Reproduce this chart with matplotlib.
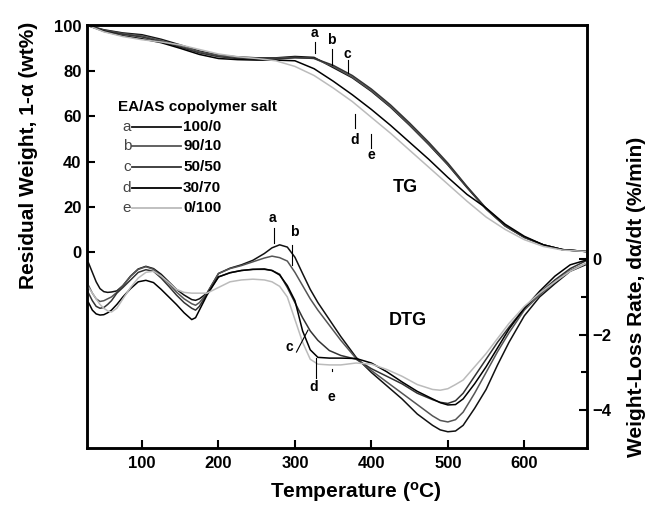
import numpy as np
import matplotlib
matplotlib.use("Agg")
import matplotlib.pyplot as plt

plt.rcParams['font.family'] = ['Liberation Sans', 'DejaVu Sans']

# ---- TG data (left axis, wt%) ----
t_tg = [30, 50, 75, 100, 125, 150, 175, 200, 225, 250, 275, 300, 325, 350,
        375, 400, 425, 450, 475, 500, 525, 550, 575, 600, 625, 650, 680]
tg_a = [100, 98.2, 96.8, 96.0, 94.0, 91.5, 88.8, 87.0, 86.2, 85.8, 85.8, 86.4, 86.0, 81.5,
        77.0, 71.0, 64.0, 56.0, 47.5, 38.5, 28.5, 19.0, 11.5, 6.5, 3.2, 1.1, 0.3]
tg_b = [100, 98.0, 96.5, 95.5, 93.5, 91.0, 88.5, 86.8, 86.0, 85.6, 85.6, 86.0, 85.5, 82.0,
        77.3, 71.3, 64.3, 56.3, 47.8, 38.8, 28.8, 19.2, 11.6, 6.5, 3.2, 1.1, 0.3]
tg_c = [100, 97.8, 96.2, 95.0, 93.0, 90.5, 88.0, 86.3, 85.5, 85.2, 85.3, 85.8, 85.6, 82.5,
        78.0, 72.0, 65.0, 57.0, 48.5, 39.3, 29.0, 19.4, 11.7, 6.6, 3.2, 1.1, 0.3]
tg_d = [100, 97.5, 95.5, 94.2, 92.5, 90.0, 87.3, 85.5, 85.0, 84.8, 84.8, 84.5, 81.0, 75.5,
        69.5, 63.0, 56.0, 48.5, 41.0, 33.0, 25.5, 19.5, 12.3, 7.0, 3.2, 1.1, 0.3]
tg_e = [100, 97.3, 95.2, 93.8, 92.8, 91.5, 89.5, 87.5, 86.3, 85.5, 84.5, 82.0, 78.0, 72.5,
        66.5, 59.5, 52.5, 45.0, 37.5, 30.0, 22.5, 15.5, 10.0, 5.5, 2.5, 0.9, 0.3]

# ---- DTG data (right axis, %/min) ----
t_dtg = [30, 35, 40, 45, 50, 55, 60, 67, 75, 85, 95, 105, 115, 125, 135, 145, 155, 165,
         170, 175, 185, 200, 215, 230, 245, 260, 270, 280, 290, 300, 310, 320, 330, 345,
         360, 380, 400, 420, 440, 460, 480, 490, 500, 510, 520, 535, 550, 565, 580, 600,
         620, 640, 660, 680]
dtg_a = [-0.10, -0.35, -0.60, -0.78, -0.86, -0.88, -0.87, -0.84, -0.70, -0.45, -0.26, -0.19,
         -0.25, -0.40, -0.60, -0.80, -0.95, -1.07, -1.09, -1.05, -0.90, -0.38, -0.24, -0.15,
         -0.03, 0.15, 0.30, 0.38, 0.32, 0.05, -0.38, -0.80, -1.15, -1.60, -2.05, -2.60,
         -3.00, -3.35, -3.70, -4.10, -4.40, -4.52, -4.57, -4.55, -4.40, -3.95, -3.45, -2.80,
         -2.20, -1.50, -1.00, -0.65, -0.32, -0.15]
dtg_b = [-0.70, -0.90, -1.05, -1.12, -1.10, -1.05, -1.00, -0.88, -0.70, -0.45, -0.27, -0.20,
         -0.27, -0.45, -0.65, -0.87, -1.05, -1.18, -1.22, -1.15, -0.90, -0.38, -0.25, -0.17,
         -0.07, 0.03, 0.08, 0.04, -0.05, -0.35, -0.70, -1.05, -1.35, -1.75, -2.15, -2.63,
         -2.95, -3.25, -3.55, -3.85, -4.15, -4.27, -4.31, -4.25, -4.05, -3.55, -3.00, -2.45,
         -1.95, -1.35, -0.95, -0.60, -0.30, -0.12]
dtg_c = [-0.90, -1.10, -1.25, -1.30, -1.28, -1.20, -1.10, -0.90, -0.75, -0.55, -0.35, -0.28,
         -0.32, -0.50, -0.72, -0.95, -1.15, -1.30, -1.35, -1.25, -0.92, -0.47, -0.36, -0.30,
         -0.27, -0.27, -0.30, -0.40, -0.75, -1.15, -1.55, -1.90, -2.15, -2.42, -2.55, -2.65,
         -2.90, -3.10, -3.30, -3.55, -3.72, -3.79, -3.82, -3.75, -3.55, -3.10, -2.65, -2.20,
         -1.80, -1.30, -0.90, -0.55, -0.25, -0.05]
dtg_d = [-1.15, -1.35, -1.45, -1.48, -1.47, -1.42, -1.35, -1.20, -1.00, -0.78, -0.60, -0.56,
         -0.62, -0.80, -1.00, -1.20, -1.42, -1.60, -1.55, -1.35, -0.95, -0.47, -0.36, -0.30,
         -0.27, -0.26, -0.30, -0.42, -0.70, -1.10, -1.90, -2.40, -2.60, -2.62, -2.62, -2.63,
         -2.75, -2.98, -3.25, -3.50, -3.70, -3.80, -3.86, -3.85, -3.70, -3.30, -2.85, -2.35,
         -1.85, -1.30, -0.85, -0.45, -0.15, -0.03]
dtg_e = [-0.75, -0.90, -1.05, -1.20, -1.30, -1.37, -1.40, -1.30, -1.05, -0.75, -0.50, -0.35,
         -0.32, -0.45, -0.62, -0.80, -0.88, -0.90, -0.90, -0.90, -0.90, -0.75, -0.60, -0.55,
         -0.53, -0.55, -0.60, -0.72, -1.00, -1.60, -2.20, -2.65, -2.78, -2.80, -2.80, -2.75,
         -2.78, -2.92, -3.10, -3.32, -3.45, -3.47, -3.43, -3.32, -3.20, -2.85, -2.50, -2.10,
         -1.70, -1.25, -0.90, -0.60, -0.32, -0.12]

letters = ['a', 'b', 'c', 'd', 'e']
ratios = ['100/0', '90/10', '50/50', '30/70', '0/100']
colors = ['#111111', '#555555', '#333333', '#000000', '#bbbbbb']
tg_all = [tg_a, tg_b, tg_c, tg_d, tg_e]
dtg_all = [dtg_a, dtg_b, dtg_c, dtg_d, dtg_e]

W, H = 647, 507
fig = plt.figure(figsize=(W / 100, H / 100), dpi=100)
ax = fig.add_axes([87 / W, 59 / H, 500 / W, 423 / H])
ax2 = ax.twinx()

for tg, dtg, col in zip(tg_all, dtg_all, colors):
    ax.plot(t_tg, tg, color=col, lw=1.1)
    ax2.plot(t_dtg, dtg, color=col, lw=1.1)

ax.set_xlim(28, 682)
ax.set_ylim(-86.5, 100.3)
ax2.set_ylim(-5.0, 6.2)

ax.set_xticks([100, 200, 300, 400, 500, 600])
ax.set_yticks([0, 20, 40, 60, 80, 100])
ax2.set_yticks([0, -2, -4])
ax2.set_yticks([-1, -3], minor=True)

for a_ in (ax, ax2):
    for sp in a_.spines.values():
        sp.set_linewidth(1.8)
    a_.tick_params(which='both', direction='in', width=1.5, labelsize=12)
    a_.tick_params(which='major', length=6)
    a_.tick_params(which='minor', length=4)
    for lab in a_.get_xticklabels() + a_.get_yticklabels():
        lab.set_fontweight('bold')
ax.tick_params(axis='x', pad=6)
ax.tick_params(axis='y', pad=4)
ax2.tick_params(axis='y', pad=4)

# axis titles placed where the reference has them
fig.text(356 / W, 1 - 492 / H, 'Temperature ($\\mathregular{^{o}}$C)', fontsize=15,
         fontweight='bold', ha='center', va='center')
fig.text(29 / W, 1 - 155 / H, 'Residual Weight, 1-\u03b1 (wt%)', fontsize=15,
         fontweight='bold', rotation=90, ha='center', va='center')
fig.text(636 / W, 1 - 297 / H, 'Weight-Loss Rate, d\u03b1/dt (%/min)', fontsize=15,
         fontweight='bold', rotation=90, ha='center', va='center')

# curve group labels
ax.text(444, 28.7, 'TG', fontsize=13, fontweight='bold', ha='center', va='center')
ax2.text(448, -1.62, 'DTG', fontsize=13, fontweight='bold', ha='center', va='center')

tg_marks = [(326, 96.6, 93, 88), (348, 93.5, 89.8, 82.5), (369, 87.7, 84.8, 79),
            (378, 49.4, 54.8, 61), (400, 42.8, 46, 52)]
for (x, yl, y0, y1), lab in zip(tg_marks, letters):
    ax.text(x, yl, lab, fontsize=10, fontweight='bold', ha='center', va='center')
    ax.plot([x, x], [y0, y1], color='k', lw=0.8)

dtg_text = [(270, 1.09), (298.7, 0.72), (292, -2.32), (324, -3.38), (348, -3.65)]
dtg_lines = [([272, 272], [0.82, 0.42]), ([295.6, 295.6], [0.37, -0.16]),
             ([302, 317], [-2.46, -1.88]), ([327.5, 327.5], [-2.62, -3.15]),
             ([348, 348], [-2.9, -2.97])]
for (x, y), (lx, ly), lab in zip(dtg_text, dtg_lines, letters):
    ax2.text(x, y, lab, fontsize=10, fontweight='bold', ha='center', va='center')
    ax2.plot(lx, ly, color='k', lw=0.8)

# legend drawn by hand
ax.text(0.062, 0.806, 'EA/AS copolymer salt', transform=ax.transAxes, fontsize=11,
        fontweight='bold', ha='left', va='center')
rows = [0.759, 0.713, 0.665, 0.615, 0.567]
for yy, lab, r, col in zip(rows, letters, ratios, colors):
    ax.text(0.088, yy, lab, transform=ax.transAxes, fontsize=11, color='#444444',
            ha='right', va='center')
    ax.plot([0.09, 0.188], [yy, yy], transform=ax.transAxes, color=col, lw=1.3)
    ax.text(0.192, yy, r, transform=ax.transAxes, fontsize=11, fontweight='bold',
            ha='left', va='center')

fig.savefig('out.png', dpi=100)
